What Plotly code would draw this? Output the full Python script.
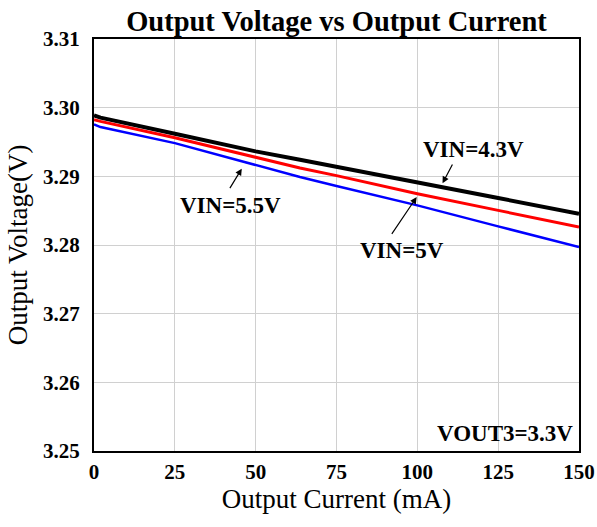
import plotly.graph_objects as go

# ---- data ----
current_ma = [0, 2, 25, 50, 63.7, 75, 100, 125, 150]
vin_43 = [3.29888, 3.29854, 3.29621, 3.29363, 3.29242, 3.29141, 3.28912, 3.28684, 3.28456]
vin_50 = [3.29825, 3.29800, 3.29563, 3.29280, 3.29121, 3.29010, 3.28747, 3.28504, 3.28261]
vin_55 = [3.29757, 3.29718, 3.29484, 3.29160, 3.28990, 3.28860, 3.28577, 3.28271, 3.27970]

series_names = ["VIN=4.3V", "VIN=5V", "VIN=5.5V"]
series_colors = ["#000000", "#ff0000", "#0000ff"]
series_widths = [4, 3, 2.5]

x_ticks = [0, 25, 50, 75, 100, 125, 150]
y_ticks = [3.25, 3.26, 3.27, 3.28, 3.29, 3.30, 3.31]

# label text, label position, arrow head, arrow tail
label_text = ["VIN=4.3V", "VIN=5V", "VIN=5.5V"]
label_x = [117.5, 95.4, 42.1]
label_y = [3.29393, 3.27922, 3.28577]
head_x = [107.8, 99.8, 45.7]
head_y = [3.28900, 3.28698, 3.29112]
tail_x = [111.1, 91.8, 41.75]
tail_y = [3.29193, 3.28141, 3.28806]

FONT = "Liberation Serif, Times New Roman, serif"

fig = go.Figure()
for vals, name, col, w in zip([vin_43, vin_50, vin_55], series_names, series_colors, series_widths):
    fig.add_trace(go.Scatter(x=current_ma, y=vals, mode="lines", name=name,
                             line=dict(color=col, width=w), showlegend=False))

annotations = []
for t, lx, ly in zip(label_text, label_x, label_y):
    annotations.append(dict(x=lx, y=ly, xref="x", yref="y", text="<b>%s</b>" % t,
                            showarrow=False, font=dict(family=FONT, size=23, color="black"),
                            xanchor="center", yanchor="middle"))
for hx, hy, tx, ty in zip(head_x, head_y, tail_x, tail_y):
    annotations.append(dict(x=hx, y=hy, xref="x", yref="y", ax=tx, ay=ty,
                            axref="x", ayref="y", text="", showarrow=True,
                            arrowhead=2, arrowsize=1.1, arrowwidth=1.2, arrowcolor="black",
                            standoff=0, startstandoff=0))
annotations.append(dict(x=148.8, y=3.25258, xref="x", yref="y", text="<b>VOUT3=3.3V</b>",
                        showarrow=False, font=dict(family=FONT, size=23, color="black"),
                        xanchor="right", yanchor="middle"))

fig.update_layout(
    width=597, height=527,
    margin=dict(l=94, r=18, t=39, b=76, autoexpand=False),
    paper_bgcolor="white", plot_bgcolor="white",
    title=dict(text="<b>Output Voltage vs Output Current</b>",
               font=dict(family=FONT, size=28.5, color="black"),
               x=0.5, xref="paper", xanchor="center",
               y=1 - 21 / 527, yref="container", yanchor="middle", automargin=False),
    annotations=annotations,
)
fig.update_xaxes(range=[0, 150], tickvals=x_ticks, ticktext=[str(v) for v in x_ticks],
                 showgrid=True, gridcolor="#d0d0d0", gridwidth=1,
                 showline=True, linecolor="black", linewidth=2, mirror=True,
                 ticks="", zeroline=False, automargin=False, ticklabelstandoff=1,
                 tickfont=dict(family=FONT, size=21, color="black", weight="bold"),
                 title=dict(text="Output Current (mA)", font=dict(family=FONT, size=27, color="black"),
                            standoff=5))
fig.update_yaxes(range=[3.25, 3.31], tickvals=y_ticks, ticktext=["%.2f" % v for v in y_ticks],
                 showgrid=True, gridcolor="#d0d0d0", gridwidth=1,
                 showline=True, linecolor="black", linewidth=2, mirror=True,
                 ticks="", zeroline=False, ticklabelstandoff=8, automargin=False,
                 tickfont=dict(family=FONT, size=21, color="black", weight="bold"),
                 title=dict(text="Output Voltage(V)", font=dict(family=FONT, size=27, color="black"),
                            standoff=8))

fig.write_html("out.html", config={"displayModeBar": False},
               post_script="document.body.style.margin='0';")
